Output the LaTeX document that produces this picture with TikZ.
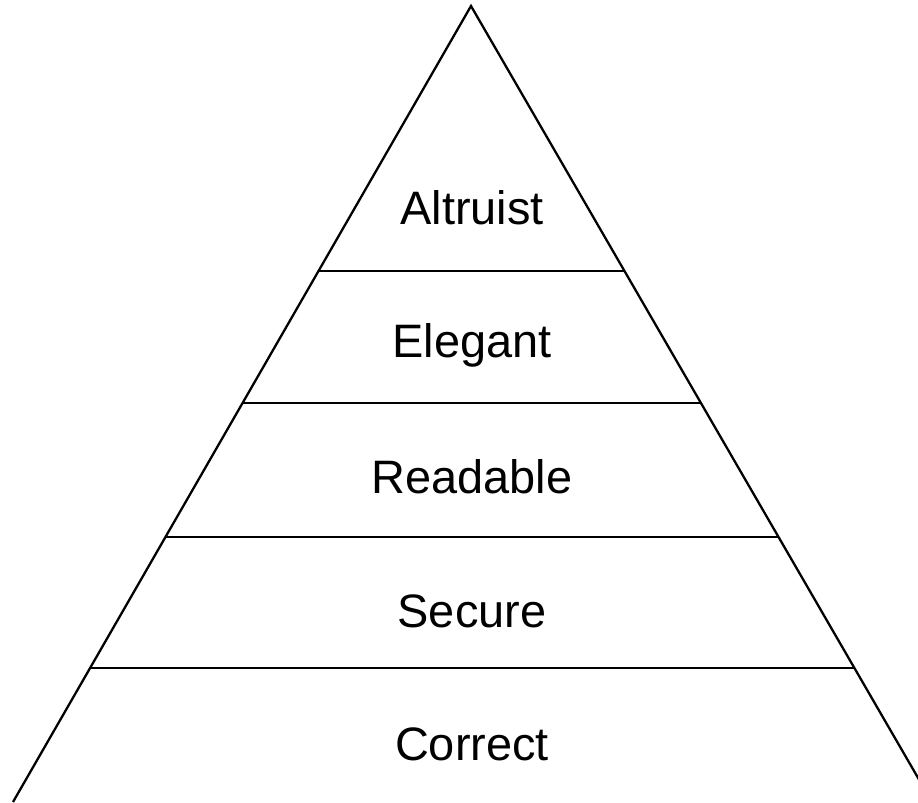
\documentclass[tikz,border=0pt]{standalone}
\usepackage{fontspec}
\setmainfont{Liberation Sans}
\usepackage{tikz}
\usetikzlibrary{calc}

\tikzset{level/.style={anchor=base,inner sep=0pt,font=\fontsize{26.7}{32}\selectfont}}

\begin{document}
\begin{tikzpicture}[line width=1.3pt]
\useasboundingbox (0,0) rectangle (18.36,16.04);
\path[clip] (0,0) rectangle (18.36,16.04);
\coordinate (top) at (9.42,15.92);
\coordinate (bl) at (0.26,0);
\coordinate (br) at (18.64,0);
\draw (bl)--(top)--(br);
% the four dividing lines
\foreach \h [count=\i] in {2.68,5.30,7.98,10.62} {
\coordinate (l\i) at ($(bl)!{\h/15.92}!(top)$);
\coordinate (r\i) at ($(br)!{\h/15.92}!(top)$);
\draw (l\i)--(r\i);
}
\node[level] (correct) at (9.44,0.84) {Correct};
\node[level] (secure) at (9.44,3.50) {Secure};
\node[level] (readable) at (9.44,6.18) {Readable};
\node[level] (elegant) at (9.44,8.88) {Elegant};
\node[level] (altruist) at (9.44,11.54) {Altruist};
\end{tikzpicture}
\end{document}
